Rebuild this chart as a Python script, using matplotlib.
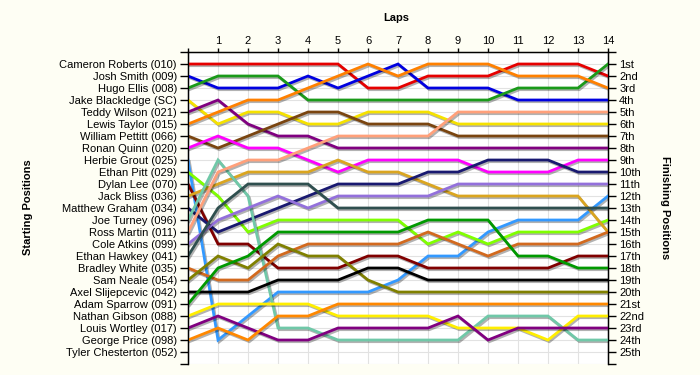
import matplotlib
matplotlib.use("Agg")
import matplotlib.pyplot as plt
import matplotlib.patheffects as pe

laps = list(range(0, 15))

drivers = ["Cameron Roberts (010)", "Josh Smith (009)", "Hugo Ellis (008)", "Jake Blackledge (SC)",
           "Teddy Wilson (021)", "Lewis Taylor (015)", "William Pettitt (066)", "Ronan Quinn (020)",
           "Herbie Grout (025)", "Ethan Pitt (029)", "Dylan Lee (070)", "Jack Bliss (036)",
           "Matthew Graham (034)", "Joe Turney (096)", "Ross Martin (011)", "Cole Atkins (099)",
           "Ethan Hawkey (041)", "Bradley White (035)", "Sam Neale (054)", "Axel Slijepcevic (042)",
           "Adam Sparrow (091)", "Nathan Gibson (088)", "Louis Wortley (017)", "George Price (098)",
           "Tyler Chesterton (052)"]

finish_labels = ["1st", "2nd", "3rd"] + [f"{i}th" for i in range(4, 21)] + ["21st", "22nd", "23rd", "24th", "25th"]

# position of each driver at each lap (lap 0 = start)
cameron_roberts = [1, 1, 1, 1, 1, 1, 3, 3, 2, 2, 2, 1, 1, 1, 2]
josh_smith      = [2, 3, 3, 3, 2, 3, 2, 1, 3, 3, 3, 4, 4, 4, 4]
hugo_ellis      = [3, 2, 2, 2, 4, 4, 4, 4, 4, 4, 4, 3, 3, 3, 1]
jake_blackledge = [4, 6, 5, 5, 6, 6, 5, 5, 5, 6, 6, 6, 6, 6, 6]
teddy_wilson    = [5, 4, 6, 7, 7, 8, 8, 8, 8, 8, 8, 8, 8, 8, 8]
lewis_taylor    = [6, 5, 4, 4, 3, 2, 1, 2, 1, 1, 1, 2, 2, 2, 3]
william_pettitt = [7, 8, 7, 6, 5, 5, 6, 6, 6, 7, 7, 7, 7, 7, 7]
ronan_quinn     = [8, 7, 8, 8, 9, 10, 9, 9, 9, 9, 10, 10, 10, 9, 9]
herbie_grout    = [9, 24, 22, 20, 20, 20, 20, 19, 17, 17, 15, 14, 14, 14, 12]
ethan_pitt      = [10, 12, 15, 14, 14, 14, 14, 14, 16, 15, 16, 15, 15, 15, 14]
dylan_lee       = [11, 16, 16, 18, 18, 18, 17, 17, 18, 18, 18, 18, 18, 17, 17]
jack_bliss      = [12, 11, 10, 10, 10, 9, 10, 10, 11, 12, 12, 12, 12, 12, 15]
matthew_graham  = [13, 15, 14, 13, 12, 11, 11, 11, 10, 10, 9, 9, 9, 10, 10]
joe_turney      = [14, 9, 12, 23, 23, 24, 24, 24, 24, 24, 22, 22, 22, 24, 24]
ross_martin     = [15, 10, 9, 9, 8, 7, 7, 7, 7, 5, 5, 5, 5, 5, 5]
cole_atkins     = [16, 14, 13, 12, 13, 12, 12, 12, 12, 11, 11, 11, 11, 11, 11]
ethan_hawkey    = [17, 13, 11, 11, 11, 13, 13, 13, 13, 13, 13, 13, 13, 13, 13]
bradley_white   = [18, 19, 19, 17, 16, 16, 16, 16, 15, 16, 17, 16, 16, 16, 15]
sam_neale       = [19, 17, 18, 16, 17, 17, 19, 20, 20, 20, 20, 20, 20, 20, 20]
axel_slijepcevic = [20, 20, 20, 19, 19, 19, 18, 18, 19, 19, 19, 19, 19, 19, 19]
adam_sparrow    = [21, 18, 17, 15, 15, 15, 15, 15, 14, 14, 14, 17, 17, 18, 18]
nathan_gibson   = [22, 21, 21, 21, 21, 22, 22, 22, 22, 23, 23, 23, 24, 22, 22]
louis_wortley   = [23, 22, 23, 24, 24, 23, 23, 23, 23, 22, 24, 23, 23, 23, 23]
george_price    = [24, 23, 24, 22, 22, 21, 21, 21, 21, 21, 21, 21, 21, 21, 21]

series = [cameron_roberts, josh_smith, hugo_ellis, jake_blackledge, teddy_wilson, lewis_taylor,
          william_pettitt, ronan_quinn, herbie_grout, ethan_pitt, dylan_lee, jack_bliss,
          matthew_graham, joe_turney, ross_martin, cole_atkins, ethan_hawkey, bradley_white,
          sam_neale, axel_slijepcevic, adam_sparrow, nathan_gibson, louis_wortley, george_price]

colors = ["#e60000", "#0000e0", "#1a9a1a", "#f5e100", "#800080", "#ff8000", "#7a4510", "#ff00ff",
          "#3399ff", "#80ff00", "#800000", "#daa520", "#191970", "#70c8a8", "#ffa07a", "#9370db",
          "#2f4f4f", "#d2691e", "#808000", "#000000", "#009900", "#ffee00", "#800080", "#ff8800"]

plt.rcParams['font.family'] = ['Liberation Sans', 'DejaVu Sans']

fig = plt.figure(figsize=(7, 3.75), dpi=100, facecolor="#fefef4")
ax = fig.add_axes([0.2686, 0.0293, 0.6, 0.832])
ax.set_facecolor("white")

n = len(drivers)
for vals, col in zip(series, colors):
    ax.plot(laps, vals, color=col, lw=2.0, solid_joinstyle="miter", zorder=3,
            path_effects=[pe.SimpleLineShadow(offset=(1.0, -1.2), shadow_color="black", alpha=0.3),
                          pe.Normal()])

ax.set_xlim(0, 14)
ax.set_ylim(n + 1, 0)

ax.set_yticks(range(0, n + 2))
ax.set_yticklabels([""] + drivers + [""], fontsize=8.0)
ax.set_xticks(laps)
ax.set_xticklabels([""] + [str(l) for l in laps[1:]], fontsize=8.0)
ax.xaxis.tick_top()
ax.tick_params(axis="x", direction="out", length=3, pad=1, width=1)
ax.tick_params(axis="y", direction="out", length=6, pad=2, width=1)
ax.grid(True, color="#e2e2e2", lw=0.8, zorder=0)
ax.set_axisbelow(True)
ax.spines["bottom"].set_visible(False)
for s in ["left", "right", "top"]:
    ax.spines[s].set_linewidth(1.0)

ax2 = ax.twinx()
ax2.set_ylim(n + 1, 0)
ax2.set_yticks(range(0, n + 2))
ax2.set_yticklabels([""] + finish_labels + [""], fontsize=8.0)
ax2.tick_params(axis="y", direction="out", length=6, pad=2, width=1)
ax2.spines["bottom"].set_visible(False)

fig.text(0.566, 0.952, "Laps", ha="center", va="center", fontsize=8, fontweight="bold")
fig.text(0.040, 0.447, "Starting Positions", ha="center", va="center", rotation=90,
         fontsize=8, fontweight="bold")
fig.text(0.950, 0.447, "Finishing Positions", ha="center", va="center", rotation=270,
         fontsize=8, fontweight="bold")

fig.savefig("out.png", dpi=100, facecolor=fig.get_facecolor())
